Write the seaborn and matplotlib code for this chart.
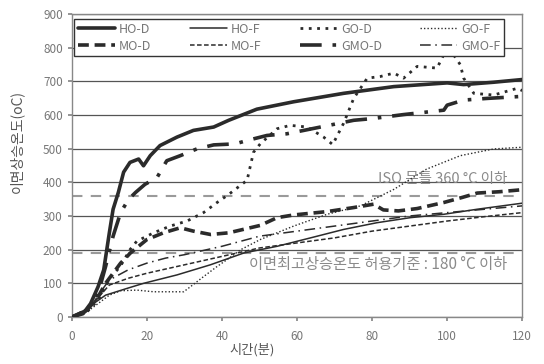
import matplotlib
matplotlib.use("Agg")
import matplotlib.pyplot as plt
import seaborn as sns
import numpy as np

sns.set_theme(style="white")
plt.rcParams['font.family'] = ['Noto Sans CJK KR', 'DejaVu Sans']

# ---- data (minutes, temperature) ----
HO_D_t = [0, 3, 5, 7, 8.5, 10, 11, 12.4, 13.8, 15.5, 17.8, 19.1, 20.9, 23.5, 28, 32.4, 37.8, 41.8, 49.3, 59.1, 72.4, 85.8, 100, 104.4, 112.4, 120]
HO_D_v = [0, 10, 40, 90, 140, 250, 320, 370, 430, 459, 469, 449, 479, 509, 534, 554, 564, 584, 617, 639, 664, 684, 695, 690, 697, 705]

HO_F_t = [0, 3, 5.8, 9, 14.7, 19.1, 28, 36.9, 45.8, 54.7, 63.6, 72.4, 81.3, 90.2, 99.1, 108, 120]
HO_F_v = [0, 10, 40, 65, 85, 100, 125, 155, 190, 210, 235, 260, 280, 295, 305, 320, 338]

GO_D_t = [0, 4, 7, 9, 10.5, 12.9, 15.5, 17.3, 21.8, 26.2, 30.7, 35.1, 38.7, 41.8, 46.7, 48.4, 50.2, 54.7, 58.2, 62.7, 67.1, 69.5, 72.4, 75.1, 78.7, 82.2, 85.8, 88.4, 92, 97.3, 99.1, 101, 103.5, 104.4, 107.1, 112.4, 118.7, 120]
GO_D_v = [0, 15, 50, 90, 120, 150, 200, 225, 250, 270, 285, 310, 340, 364, 406, 489, 514, 559, 569, 564, 534, 512, 575, 649, 709, 714, 724, 709, 744, 739, 779, 790, 749, 709, 664, 659, 679, 672]

GO_F_t = [0, 4, 7, 10, 13, 17.3, 21.8, 29.8, 31.6, 35.1, 38.7, 41.3, 45, 50.2, 59.1, 68, 76.9, 85.8, 94.5, 103.5, 112.4, 120]
GO_F_v = [0, 15, 40, 65, 78, 80, 75, 75, 90, 120, 150, 170, 200, 230, 270, 305, 330, 379, 439, 479, 499, 504]

MO_D_t = [0, 4, 7, 9, 11, 13, 15.6, 20, 24.4, 28.9, 32.4, 37, 41.8, 50.2, 54.7, 59.1, 68, 75.1, 80.4, 83, 87, 92, 99.1, 104, 108, 114, 120]
MO_D_v = [0, 20, 60, 100, 130, 160, 190, 230, 250, 265, 255, 245, 250, 272, 295, 303, 313, 325, 335, 318, 315, 322, 340, 355, 368, 372, 378]

MO_F_t = [0, 5, 8, 10, 15, 20, 30, 40, 50, 60, 70, 80, 90, 100, 110, 120]
MO_F_v = [0, 30, 70, 95, 115, 130, 155, 180, 205, 220, 235, 255, 270, 285, 298, 310]

GMO_D_t = [0, 4, 7, 9, 11, 13, 15.1, 17, 19.5, 22.7, 25.3, 28.9, 33.3, 37.8, 43.5, 46.7, 52, 57.3, 61.8, 70.7, 75.1, 80, 88.4, 99.1, 100, 104.4, 110.7, 120]
GMO_D_v = [0, 20, 70, 150, 240, 310, 349, 370, 394, 414, 464, 479, 499, 511, 514, 524, 539, 544, 554, 574, 584, 589, 601, 614, 629, 644, 649, 655]

GMO_F_t = [0, 5, 8, 10, 15, 20, 25, 30, 40, 50, 60, 70, 80, 90, 100, 110, 120]
GMO_F_v = [0, 30, 80, 110, 140, 160, 175, 185, 210, 240, 255, 270, 285, 300, 310, 320, 330]

ISO_limit = 360
allow_limit = 190

x_ticks = [0, 20, 40, 60, 80, 100, 120]
y_ticks = [0, 100, 200, 300, 400, 500, 600, 700, 800, 900]

series = [
    ("HO-D", HO_D_t, HO_D_v, 2.6, '-'),
    ("HO-F", HO_F_t, HO_F_v, 1.1, '-'),
    ("GO-D", GO_D_t, GO_D_v, 2.0, (0, (1, 2.0))),
    ("GO-F", GO_F_t, GO_F_v, 1.0, (0, (1, 1.5))),
    ("MO-D", MO_D_t, MO_D_v, 2.6, (0, (3, 1.6))),
    ("MO-F", MO_F_t, MO_F_v, 1.1, (0, (3, 1.6))),
    ("GMO-D", GMO_D_t, GMO_D_v, 2.6, (0, (6, 3, 1, 3))),
    ("GMO-F", GMO_F_t, GMO_F_v, 1.1, (0, (7, 3, 1, 3))),
]

fig = plt.figure(figsize=(5.44, 3.64), dpi=100)
ax = fig.add_axes([0.132, 0.129, 0.828, 0.833])

line_col = '#2b2b2b'
ax.axhline(ISO_limit, color='#9a9a9a', lw=1.5, ls=(0, (5, 4)), zorder=1)
ax.axhline(allow_limit, color='#9a9a9a', lw=1.5, ls=(0, (5, 4)), zorder=1)

for name, t, v, lw, ls in series:
    sns.lineplot(x=np.array(t), y=np.array(v), ax=ax, color=line_col, lw=lw,
                 linestyle=ls, label=name, zorder=3)

ax.set_xlim(0, 120)
ax.set_ylim(0, 900)
ax.set_xticks(x_ticks)
ax.set_yticks(y_ticks)
ax.yaxis.grid(True, color='#555555', lw=0.9)
ax.xaxis.grid(False)
for s in ax.spines.values():
    s.set_color('#888888')
    s.set_linewidth(1.0)
ax.tick_params(axis='both', colors='#888888', labelcolor='#777777', labelsize=8.5,
               length=3, direction='out', left=True, bottom=True)
ax.tick_params(axis='x', pad=6)
ax.set_xlabel("시간(분)", color='#555555', fontsize=9.5)
ax.set_ylabel("이면상승온도(oC)", color='#555555', fontsize=10)
ax.xaxis.set_label_coords(0.4, -0.085)
ax.yaxis.set_label_coords(-0.105, 0.58)

ax.text(116, 410, "ISO 문틀 360 °C 이하", color='#8a8a8a', fontsize=10.5,
        ha='right', va='center', zorder=2)
ax.text(116, 155, "이면최고상승온도 허용기준 : 180 °C 이하", color='#8a8a8a', fontsize=11,
        ha='right', va='center', zorder=2)

h, l = ax.get_legend_handles_labels()
order = ["HO-D", "MO-D", "HO-F", "MO-F", "GO-D", "GMO-D", "GO-F", "GMO-F"]
hm = dict(zip(l, h))
leg = ax.legend([hm[k] for k in order], order, ncol=4, loc='lower left',
                bbox_to_anchor=(0.005, 0.86, 0.955, 0.145), mode='expand',
                frameon=True, fancybox=False, edgecolor='#333333', framealpha=1,
                fontsize=9, handlelength=3.0, handletextpad=0.3,
                borderaxespad=0, labelspacing=0.3, borderpad=0.3, columnspacing=1.0)
leg.get_frame().set_linewidth(1.0)
for txt in leg.get_texts():
    txt.set_color('#777777')

fig.savefig("out.png", dpi=100)
